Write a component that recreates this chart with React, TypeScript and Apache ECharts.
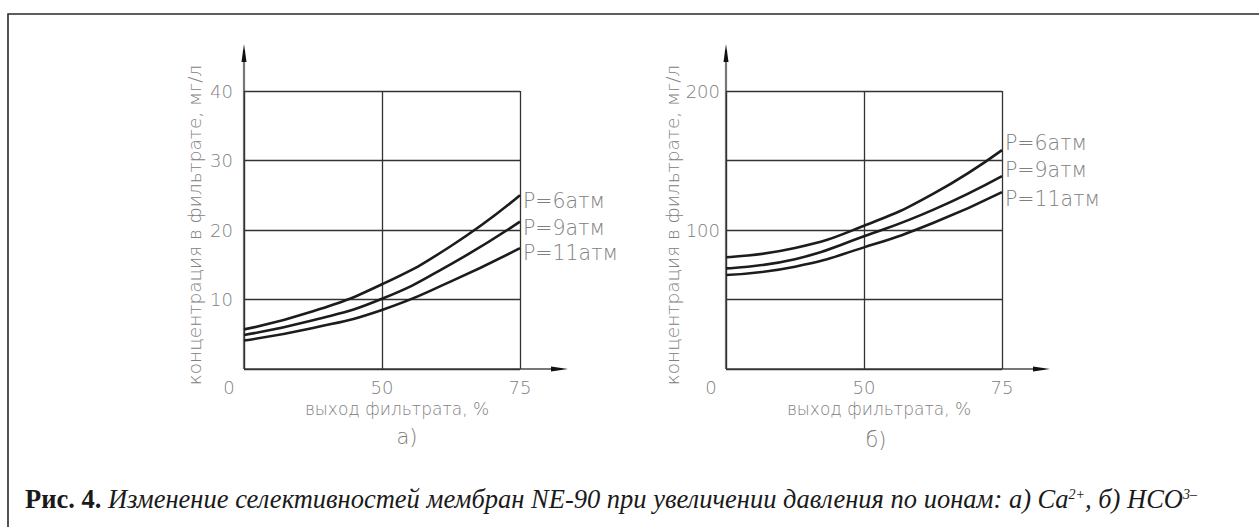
import React, { useEffect, useRef } from "react";
import * as echarts from "echarts";

// ---- data ----
const xValues = [25, 37.5, 50, 62.5, 75]; // left edge of the plot is the origin "0"
const xTickLabels = ["0", "50", "75"];
const seriesNames = ["P=6атм", "P=9атм", "P=11атм"];

// а) Ca2+, mg/l
const caP6 = [5.7, 8.3, 12.2, 17.7, 25.0];
const caP9 = [4.9, 7.0, 10.1, 15.1, 21.2];
const caP11 = [4.1, 5.9, 8.5, 12.6, 17.4];

// б) HCO3-, mg/l
const hcoP6 = [80.4, 87.0, 103.0, 126.0, 157.5];
const hcoP9 = [72.4, 79.0, 95.5, 114.5, 138.8];
const hcoP11 = [67.6, 73.6, 87.5, 105.0, 127.3];

const yNameText = "концентрация в фильтрате, мг/л";
const xNameText = "выход фильтрата, %";
const panelLabels = ["а)", "б)"];

// ---- layout ----
const W = 1259;
const H = 527;
const GRID_TOP = 91;
const GRID_H = 278;
const GRID_W = 276;
const LEFTS = [244, 726];
const FONT = "'DejaVu Sans', sans-serif";
const GREY = "#808080";
const DARK = "#2a2a2a";
const SERIF = "'Liberation Serif', serif";

export default function App() {
  const ref = useRef<HTMLDivElement>(null);
  useEffect(() => {
    document.body.style.margin = "0";
    if (!ref.current) return;
    const chart = echarts.init(ref.current, null, { renderer: "svg" });

    const labelStyle = { fontFamily: FONT, fontSize: 18, fontWeight: 200, color: GREY };
    const splitLine = { show: true, lineStyle: { color: "#333", width: 1.3 } };

    const xAxisFor = (gi: number) => ({
      gridIndex: gi,
      type: "value",
      min: 25,
      max: 75,
      interval: 25,
      axisLine: { show: false },
      axisTick: { show: false },
      axisLabel: {
        ...labelStyle,
        margin: 9,
        formatter: (v: number) => (v === 25 ? "" : String(v)),
      },
      splitLine,
      name: xNameText,
      nameLocation: "middle",
      nameGap: 31,
      nameTextStyle: { fontFamily: FONT, fontSize: 17, fontWeight: 200, color: GREY, padding: [0, 0, 0, 30] },
    });

    const yAxisFor = (gi: number, max: number, interval: number, shown: number[], margin: number) => ({
      gridIndex: gi,
      type: "value",
      min: 0,
      max,
      interval,
      axisLine: { show: false },
      axisTick: { show: false },
      axisLabel: {
        ...labelStyle,
        margin,
        formatter: (v: number) => (shown.includes(v) ? String(v) : ""),
      },
      splitLine,
      name: yNameText,
      nameLocation: "middle",
      nameRotate: 90,
      nameGap: gi === 0 ? 40 : 37,
      nameTextStyle: { fontFamily: FONT, fontSize: 18.5, fontWeight: 200, color: GREY, padding: [0, 0, 0, 10] },
    });

    const offsetsA = [[0, 6], [0, 6], [0, 5]];
    const offsetsB = [[0, -7], [0, -6], [0, 7]];

    const mkSeries = (gi: number, data: number[], idx: number, offs: number[][]) => ({
      type: "line",
      name: seriesNames[idx],
      xAxisIndex: gi,
      yAxisIndex: gi,
      data: xValues.map((x, i) => [x, data[i]]),
      smooth: 0.5,
      showSymbol: false,
      lineStyle: { color: "#1c1c1c", width: 2.6 },
      endLabel: {
        show: true,
        formatter: seriesNames[idx],
        distance: 3,
        offset: offs[idx],
        fontFamily: FONT,
        fontSize: 20.5,
        fontWeight: 200,
        color: GREY,
      },
    });

    const axisGraphics: any[] = [];
    LEFTS.forEach((left, i) => {
      const x0 = left;
      const y0 = GRID_TOP + GRID_H;
      axisGraphics.push(
        { type: "line", shape: { x1: x0, y1: y0, x2: x0, y2: 50 }, style: { stroke: "#777", lineWidth: 2.2 } },
        { type: "polygon", shape: { points: [[x0 - 2.5, 62], [x0, 44], [x0 + 2.5, 62]] }, style: { fill: "#111" } },
        { type: "line", shape: { x1: x0, y1: y0, x2: x0 + 318, y2: y0 }, style: { stroke: "#777", lineWidth: 2.2 } },
        { type: "polygon", shape: { points: [[x0 + 307, y0 - 2.5], [x0 + 324, y0], [x0 + 307, y0 + 2.5]] }, style: { fill: "#111" } },
        {
          type: "text",
          x: x0 - 15,
          y: y0 + 18,
          style: { text: xTickLabels[0], fontFamily: FONT, fontSize: 18, fontWeight: 200, fill: GREY, align: "center", verticalAlign: "middle" },
        },
        {
          type: "text",
          x: i === 0 ? 407 : 876,
          y: i === 0 ? 437 : 440,
          style: { text: panelLabels[i], fontFamily: FONT, fontSize: 21, fontWeight: 200, fill: GREY, align: "center", verticalAlign: "middle" },
        }
      );
    });

    chart.setOption({
      animation: false,
      backgroundColor: "#ffffff",
      grid: LEFTS.map((left) => ({ left, top: GRID_TOP, width: GRID_W, height: GRID_H })),
      xAxis: [xAxisFor(0), xAxisFor(1)],
      yAxis: [yAxisFor(0, 40, 10, [10, 20, 30, 40], 11), yAxisFor(1, 200, 50, [100, 200], 6)],
      series: [
        mkSeries(0, caP6, 0, offsetsA),
        mkSeries(0, caP9, 1, offsetsA),
        mkSeries(0, caP11, 2, offsetsA),
        mkSeries(1, hcoP6, 0, offsetsB),
        mkSeries(1, hcoP9, 1, offsetsB),
        mkSeries(1, hcoP11, 2, offsetsB),
      ],
      graphic: [
        { type: "rect", shape: { x: 8, y: 14, width: 1400, height: 700 }, style: { fill: "none", stroke: DARK, lineWidth: 1.6 } },
        ...axisGraphics,
        {
          type: "text",
          x: 25,
          y: 499,
          style: {
            text: "{b|Рис. 4. }{i|Изменение селективностей мембран NE-90 при увеличении давления по ионам: а) Ca}{s|2+}{i|, б) HCO}{s|3–}",
            verticalAlign: "middle",
            rich: {
              b: { fontFamily: SERIF, fontWeight: "bold", fontSize: 26.5, fill: "#1a1a1a", lineHeight: 30 },
              i: { fontFamily: SERIF, fontStyle: "italic", fontSize: 26.5, fill: "#1a1a1a", lineHeight: 30 },
              s: { fontFamily: SERIF, fontStyle: "italic", fontSize: 14, fill: "#1a1a1a", lineHeight: 30, verticalAlign: "top", padding: [3, 0, 0, 0] },
            },
          },
        },
      ],
    });
    return () => chart.dispose();
  }, []);
  return <div ref={ref} style={{ width: W, height: H }} />;
}
